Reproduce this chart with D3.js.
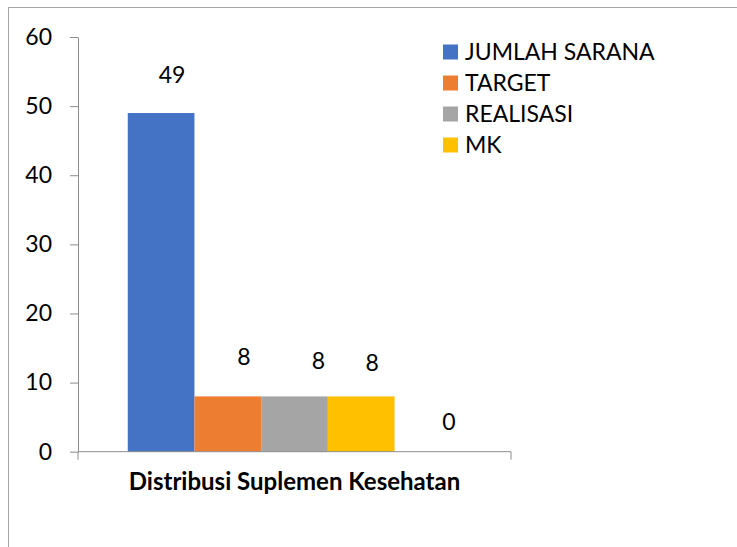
<!DOCTYPE html>
<html><head><meta charset="utf-8">
<script src="https://cdn.jsdelivr.net/npm/d3@7"></script>
<style>body{margin:0;background:#fff;} text{font-family:Lato,"Open Sans",sans-serif;}</style>
</head><body>
<svg id="c" width="737" height="547"></svg>
<script>
const category = ["Distribusi Suplemen Kesehatan"];
const seriesNames = ["JUMLAH SARANA", "TARGET", "REALISASI", "MK", ""];
const values = [49, 8, 8, 8, 0];
const colors = ["#4472C4", "#ED7D31", "#A5A5A5", "#FFC000", "#5B9BD5"];
const yTicks = [0, 10, 20, 30, 40, 50, 60];
// manual label nudges (layout, px)
const labelDx = [11, 16, 24, 11, 21];
const labelDy = [-38, -39, -35, -33, -30];

const svg = d3.select("#c");
svg.append("rect").attr("x", 8.5).attr("y", 7.5).attr("width", 740).attr("height", 560)
  .attr("fill", "none").attr("stroke", "#a6a6a6").attr("stroke-width", 1);

const x0 = 78, x1 = 511, yTop = 37, yBot = 451.7;
const y = d3.scaleLinear().domain([0, 60]).range([yBot, yTop]);
const xc = d3.scaleBand().domain(category).range([x0, x1]).paddingInner(0).paddingOuter(0);
const xs = d3.scaleBand().domain(d3.range(values.length)).range([0, xc.bandwidth()]).paddingOuter(0.746).paddingInner(0);

const yAxis = svg.append("g").attr("transform", `translate(${x0},0)`)
  .call(d3.axisLeft(y).tickValues(yTicks).tickSize(8).tickPadding(18).tickSizeOuter(0));
yAxis.select(".domain").attr("stroke", "#8c8c8c");
yAxis.selectAll(".tick line").attr("stroke", "#8c8c8c");
yAxis.selectAll(".tick text").attr("font-size", 23).attr("fill", "#000").attr("font-family", "Lato,'Open Sans',sans-serif");

const g = svg.append("g");
category.forEach(c => {
  values.forEach((v, i) => {
    g.append("rect").attr("x", xc(c) + xs(i)).attr("y", y(v))
      .attr("width", xs.bandwidth()).attr("height", y(0) - y(v)).attr("fill", colors[i]);
    g.append("text").attr("x", xc(c) + xs(i) + xs.bandwidth() / 2 + labelDx[i])
      .attr("y", y(v) + labelDy[i]).attr("dy", "0.35em").attr("text-anchor", "middle")
      .attr("font-size", 23).attr("fill", "#000").text(v);
  });
});

// x axis
const xa = svg.append("g");
xa.append("line").attr("x1", x0).attr("x2", x1).attr("y1", yBot).attr("y2", yBot).attr("stroke", "#8c8c8c");
[x0, x1].forEach(px => xa.append("line").attr("x1", px).attr("x2", px).attr("y1", yBot).attr("y2", yBot + 8).attr("stroke", "#8c8c8c"));
xa.append("text").attr("x", xc(category[0]) + xc.bandwidth() / 2).attr("y", 482).attr("dy", "0.35em")
  .attr("text-anchor", "middle").attr("font-size", 24).attr("font-weight", "bold").attr("fill", "#000").text(category[0]);

// legend
const leg = svg.append("g");
seriesNames.filter(n => n).forEach((n, i) => {
  const cy = 52 + i * 31;
  leg.append("rect").attr("x", 443).attr("y", cy - 7.5).attr("width", 15).attr("height", 15).attr("fill", colors[i]);
  leg.append("text").attr("x", 465).attr("y", cy).attr("dy", "0.35em").attr("font-size", 23).attr("fill", "#000").text(n);
});
</script>
</body></html>
